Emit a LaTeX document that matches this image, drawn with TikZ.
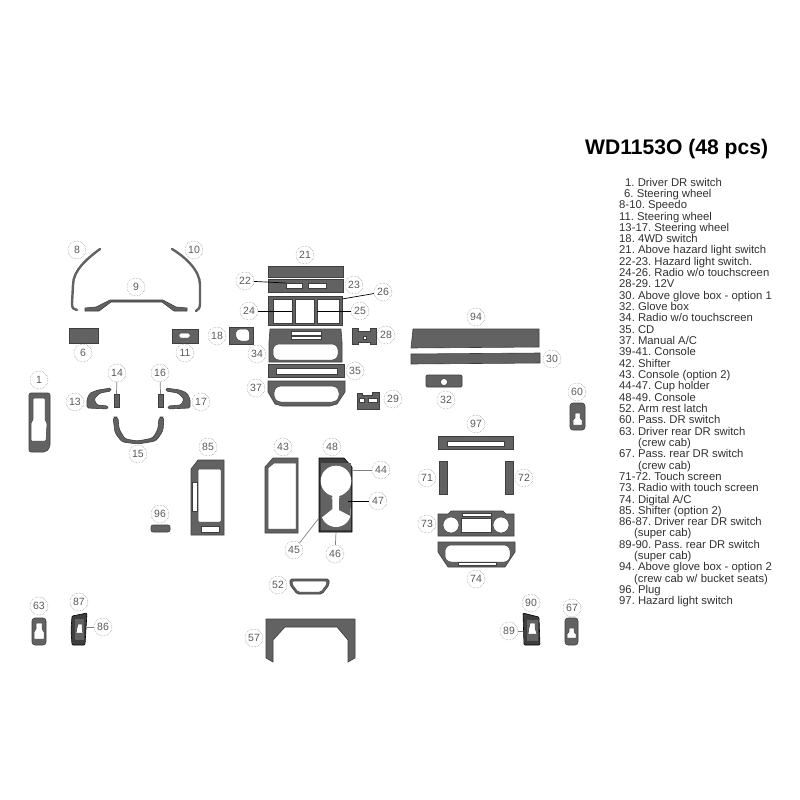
\documentclass[tikz,border=0pt]{standalone}
\usepackage{fontspec}
\setmainfont{Liberation Sans}
\frenchspacing
\definecolor{partgray}{HTML}{626262}
\definecolor{partedge}{HTML}{3E3E3E}
\definecolor{calloutgray}{HTML}{5A5A5A}
\definecolor{listgray}{HTML}{303030}
\tikzset{
  part/.style={fill=partgray,draw=partedge,line width=0.6pt},
  hole/.style={fill=white,draw=partedge,line width=0.5pt},
  darkpart/.style={fill=partedge,draw=black,line width=0.6pt},
  strip/.style={draw=partgray,line width=2.4pt,line cap=round},
  callout/.style={circle,draw=gray!90,densely dotted,line width=0.5pt,minimum size=18pt,inner sep=0pt,text=calloutgray,font=\fontsize{10.5pt}{12pt}\selectfont},
  leader/.style={draw=gray,line width=0.7pt},
  listline/.style={anchor=base west,inner sep=0pt,text=listgray,font=\fontsize{11.3pt}{12pt}\selectfont}
}
\begin{document}
\begin{tikzpicture}[x=1pt,y=-1pt]
\useasboundingbox (0,0) rectangle (800,800);

% title and list
\node (title) at (585,154) [anchor=base west,inner sep=0pt,font=\fontsize{21.1pt}{24pt}\selectfont\bfseries] {WD1153O (48 pcs)};
\node (l1) at (625,186) [listline] {1. Driver DR switch};
\node (l2) at (624,197.3) [listline] {6. Steering wheel};
\node (l3) at (619,208.6) [listline] {8-10. Speedo};
\node (l4) at (619,220) [listline] {11. Steering wheel};
\node (l5) at (619,231.3) [listline] {13-17. Steering wheel};
\node (l6) at (619,242.6) [listline] {18. 4WD switch};
\node (l7) at (619,253.9) [listline] {21. Above hazard light switch};
\node (l8) at (619,265.2) [listline] {22-23. Hazard light switch.};
\node (l9) at (619,276.6) [listline] {24-26. Radio w/o touchscreen};
\node (l10) at (619,287.9) [listline] {28-29. 12V};
\node (l11) at (619,299.2) [listline] {30. Above glove box - option 1};
\node (l12) at (619,310.5) [listline] {32. Glove box};
\node (l13) at (619,321.8) [listline] {34. Radio w/o touchscreen};
\node (l14) at (619,333.2) [listline] {35. CD};
\node (l15) at (619,344.5) [listline] {37. Manual A/C};
\node (l16) at (619,355.8) [listline] {39-41. Console};
\node (l17) at (619,367.1) [listline] {42. Shifter};
\node (l18) at (619,378.4) [listline] {43. Console (option 2)};
\node (l19) at (619,389.8) [listline] {44-47. Cup holder};
\node (l20) at (619,401.1) [listline] {48-49. Console};
\node (l21) at (619,412.4) [listline] {52. Arm rest latch};
\node (l22) at (619,423.7) [listline] {60. Pass. DR switch};
\node (l23) at (619,435) [listline] {63. Driver rear DR switch};
\node (l24) at (638,446.4) [listline] {(crew cab)};
\node (l25) at (619,457.7) [listline] {67. Pass. rear DR switch};
\node (l26) at (638,469) [listline] {(crew cab)};
\node (l27) at (619,480.3) [listline] {71-72. Touch screen};
\node (l28) at (619,491.6) [listline] {73. Radio with touch screen};
\node (l29) at (619,503) [listline] {74. Digital A/C};
\node (l30) at (619,514.3) [listline] {85. Shifter (option 2)};
\node (l31) at (619,525.6) [listline] {86-87. Driver rear DR switch};
\node (l32) at (634,536.9) [listline] {(super cab)};
\node (l33) at (619,548.2) [listline] {89-90. Pass. rear DR switch};
\node (l34) at (634,559.6) [listline] {(super cab)};
\node (l35) at (619,570.9) [listline] {94. Above glove box - option 2};
\node (l36) at (634,582.2) [listline] {(crew cab w/ bucket seats)};
\node (l37) at (619,593.5) [listline] {96. Plug};
\node (l38) at (619,604.8) [listline] {97. Hazard light switch};

% speedo
\draw [strip] (100,249) .. controls (88,258) and (73,270) .. (73,285) -- (72,304) .. controls (72,308) and (74,310) .. (77,310);
\draw [strip] (172,249) .. controls (185,257) and (200,270) .. (200,285) -- (200,304) .. controls (200,308) and (198,310) .. (196,311);
\draw [part] (85,308) -- (96,307) -- (110,300) -- (163,300) -- (176,307) -- (187,308) -- (187,311) -- (174,311) -- (162,302) -- (111,302) -- (99,311) -- (85,311) -- cycle;

% steering wheel
\draw [part] (69,328) rectangle (98,343);
\draw [part] (172,329) rectangle (198,343);
\draw [hole,rounded corners=1.5pt] (179,333) rectangle (190,338);
\draw [part,rounded corners=1.5pt] (111,388) -- (98,390) -- (90,393) -- (87,399) -- (87,408) -- (108,409) -- (108,406) -- (97,405) -- (94,399) -- (100,393) -- (111,391) -- cycle;
\draw [part,rounded corners=1.5pt] (166,388) -- (180,390) -- (187,393) -- (190,399) -- (190,408) -- (168,409) -- (168,406) -- (181,405) -- (184,399) -- (178,393) -- (166,391) -- cycle;
\draw [part] (114,394) rectangle (119,407);
\draw [part] (158,394) rectangle (163,407);
\draw [part,rounded corners=3pt] (113,417) -- (118,417) -- (119,429) -- (125,439) -- (138,441) -- (153,438) -- (158,429) -- (159,417) -- (164,417) -- (163,431) -- (156,441) -- (138,444) -- (122,442) -- (115,433) -- cycle;

% driver door switch
\draw [part,rounded corners=2pt] (29,393) -- (50,393) -- (50,447) -- (46,452) -- (29,452) -- cycle;
\draw [hole,rounded corners=1pt] (33,398) -- (45,398) -- (45,420) -- (47,423) -- (46,441) -- (31,441) -- (31,423) -- (33,420) -- cycle;

% 4WD switch
\draw [part] (229,327) rectangle (253,344);
\draw [hole,rounded corners=3pt] (237,329) -- (249,329) -- (250,341) -- (238,341) -- (235,335) -- cycle;

% center stack
\draw [part] (268,266) rectangle (343,277);
\draw [part] (268,279) rectangle (343,292);
\draw [hole] (286,283) rectangle (302,288);
\draw [hole] (308,283) rectangle (326,288);
\draw [part] (268,296) rectangle (342,325);
\draw [hole] (273,299) rectangle (292,323);
\draw [hole] (295,299) rectangle (314,323);
\draw [hole] (317,299) rectangle (339,323);
\draw [part] (270,329) -- (341,329) -- (342,342) -- (342,362) -- (269,362) -- (269,342) -- cycle;
\draw [hole] (291,331) rectangle (321,335);
\draw [hole] (291,336) rectangle (321,339);
\draw [hole,rounded corners=6pt] (273,344) rectangle (338,360);
\draw [part] (268,364) rectangle (344,377);
\draw [hole] (276,368) rectangle (337,374);
\draw [part] (268,381) -- (345,381) -- (345,392) -- (337,404) -- (330,406) -- (282,406) -- (275,404) -- (268,392) -- cycle;
\draw [hole,rounded corners=7pt] (274,386) rectangle (339,402);

% 12V
\draw [part] (352,328) -- (358,328) -- (358,331) -- (370,331) -- (370,328) -- (376,328) -- (376,344) -- (370,344) -- (370,342) -- (358,342) -- (358,344) -- (352,344) -- cycle;
\draw [hole] (363,336) rectangle (366,339);
\draw [part] (357,393) -- (362,393) -- (362,395) -- (372,395) -- (372,392) -- (379,392) -- (379,409) -- (357,409) -- cycle;
\draw [hole] (359,398) rectangle (364,402);
\draw [hole] (368,398) rectangle (377,402);

% above glove box and glove box
\draw [part] (413,329) -- (539,329) -- (539,347) -- (411,348) -- cycle;
\draw [part] (411,354) -- (540,353) -- (540,363) -- (411,364) -- cycle;
\draw [part,rounded corners=1pt] (426,375) rectangle (462,387);
\draw [hole] (444,382) circle (3.5pt);

% pass door switch
\draw [part,rounded corners=3pt] (570,403) rectangle (585,430);
\draw [hole] (575,413) -- (580,413) -- (580,418) -- (582,420) -- (582,425) -- (573,425) -- (573,420) -- (575,418) -- cycle;

% touch screen group
\draw [part] (438,436) rectangle (513,449);
\draw [hole] (447,441) rectangle (504,446);
\draw [part] (439,461) rectangle (447,494);
\draw [part] (505,461) rectangle (513,494);
\draw [part] (438,514) -- (448,514) -- (451,511) -- (503,511) -- (506,514) -- (514,514) -- (514,536) -- (438,536) -- cycle;
\draw [hole] (451,525) circle (8pt);
\draw [hole] (501,525) circle (8pt);
\draw [hole] (461,518) rectangle (491,532);
\draw [hole] (462,513) rectangle (491,516.5);
\draw [part] (438,542) -- (515,542) -- (515,552) -- (505,567) -- (448,567) -- (438,552) -- cycle;
\draw [hole,rounded corners=6pt] (445,545) rectangle (510,562);
\draw [hole] (458,562) rectangle (496,565);

% shifter option 2
\draw [part] (198,460) -- (224,460) -- (224,535) -- (191,535) -- (191,469) -- cycle;
\draw [hole,rounded corners=1pt] (198,469) rectangle (221,522);
\draw [hole] (192,482) rectangle (197,511);
\draw [hole] (201,526) rectangle (219,532);

% plug
\draw [part,rounded corners=2pt] (151,525) rectangle (170,532);

% console option 2
\draw [part] (273,458) -- (298,458) -- (298,533) -- (265,533) -- (265,467) -- cycle;
\draw [hole] (274,463) -- (296,463) -- (296,529) -- (268,529) -- (268,468) -- cycle;

% cup holder
\draw [darkpart] (319,458) -- (344,458) -- (352,467) -- (352,532) -- (319,532) -- cycle;
\fill [partgray] (321,463) rectangle (351,530);
\fill [white] (336,481) circle (15.3pt) (336,512) circle (15pt) (332.3,490) rectangle (339,506);
\fill [partgray] (320.5,489) -- (332.3,499) -- (332.3,509) -- (320.5,518.5) -- cycle;
\fill [partgray] (350.5,488.5) -- (339,498.5) -- (339,510) -- (350.5,516) -- cycle;

% arm rest latch
\draw [part,rounded corners=1.5pt] (290,579) -- (329,579) -- (329,585) -- (322,594) -- (297,594) -- (290,585) -- cycle;
\draw [hole,rounded corners=1.5pt] (292,581) -- (327,581) -- (327,584) -- (321,592) -- (298,592) -- (292,584) -- cycle;

% rear console
\draw [part] (266,619) -- (355,619) -- (355,658) -- (348,662) -- (348,640) -- (337,627) -- (285,627) -- (273,640) -- (273,662) -- (266,658) -- cycle;

% rear door switches
\draw [part,rounded corners=3pt] (32,618) rectangle (46,645);
\draw [hole] (36,623) -- (42,623) -- (42,629) -- (44,632) -- (44,639) -- (34,639) -- (34,632) -- (36,629) -- cycle;
\draw [darkpart,rounded corners=1pt] (72,616) -- (87,613) -- (85,645) -- (72,645) -- (71,630) -- cycle;
\draw [part] (74,618) rectangle (84,640);
\draw [hole] (78,624) -- (82,624) -- (82,628) -- (83,633) -- (76,633) -- (77,628) -- cycle;
\draw [darkpart,rounded corners=1pt] (523,613) -- (539,617) -- (540,645) -- (524,645) -- cycle;
\draw [part] (526,619) rectangle (538,641);
\draw [hole] (530,623) -- (535,623) -- (535,628) -- (537,634) -- (528,634) -- (529,628) -- cycle;
\draw [part,rounded corners=3pt] (565,618) rectangle (578,645);
\draw [hole] (569,628) -- (574,628) -- (574,632) -- (576,634) -- (576,638) -- (567,638) -- (567,634) -- (569,632) -- cycle;

% callouts
\node (c1) at (39,380) [callout] {1};
\node (c6) at (83,353) [callout] {6};
\node (c8) at (77,250) [callout] {8};
\node (c9) at (136,287) [callout] {9};
\node (c10) at (194,250) [callout] {10};
\node (c11) at (185,353) [callout] {11};
\node (c13) at (75,402) [callout] {13};
\node (c14) at (117,373) [callout] {14};
\node (c15) at (138,454) [callout] {15};
\node (c16) at (160,373) [callout] {16};
\node (c17) at (201,402) [callout] {17};
\node (c18) at (217,336) [callout] {18};
\node (c21) at (305,255) [callout] {21};
\node (c22) at (245,281) [callout] {22};
\node (c23) at (354,285) [callout] {23};
\node (c24) at (249,311) [callout] {24};
\node (c25) at (360,311) [callout] {25};
\node (c26) at (383,292) [callout] {26};
\node (c28) at (386,335) [callout] {28};
\node (c29) at (393,399) [callout] {29};
\node (c30) at (552,359) [callout] {30};
\node (c32) at (446,400) [callout] {32};
\node (c34) at (257,354) [callout] {34};
\node (c35) at (355,371) [callout] {35};
\node (c37) at (256,388) [callout] {37};
\node (c43) at (283,447) [callout] {43};
\node (c44) at (381,470) [callout] {44};
\node (c45) at (294,550) [callout] {45};
\node (c46) at (335,554) [callout] {46};
\node (c47) at (378,501) [callout] {47};
\node (c48) at (332,447) [callout] {48};
\node (c52) at (278,585) [callout] {52};
\node (c57) at (254,638) [callout] {57};
\node (c60) at (577,392) [callout] {60};
\node (c63) at (39,606) [callout] {63};
\node (c67) at (572,608) [callout] {67};
\node (c71) at (427,478) [callout] {71};
\node (c72) at (524,478) [callout] {72};
\node (c73) at (427,524) [callout] {73};
\node (c74) at (476,579) [callout] {74};
\node (c85) at (208,447) [callout] {85};
\node (c86) at (103,627) [callout] {86};
\node (c87) at (79,602) [callout] {87};
\node (c89) at (509,631) [callout] {89};
\node (c90) at (531,603) [callout] {90};
\node (c94) at (476,317) [callout] {94};
\node (c96) at (160,514) [callout] {96};
\node (c97) at (476,424) [callout] {97};

% leader ends
\coordinate (p14) at (116.5,394);
\coordinate (p16) at (160.5,394);
\coordinate (p22) at (286,283);
\coordinate (p24) at (292,311);
\coordinate (p25) at (317,311);
\coordinate (p26) at (342,299);
\coordinate (p44) at (352,470);
\coordinate (p45) at (319,518);
\coordinate (p46) at (336,532);
\coordinate (p47) at (348,501);
\coordinate (p86) at (87,627);
\coordinate (p89) at (523,631);

\draw [leader] (c14) -- (p14);
\draw [leader] (c16) -- (p16);
\draw [leader,draw=black] (c22) -- (p22);
\draw [leader,draw=black] (c24) -- (p24);
\draw [leader,draw=black] (c25) -- (p25);
\draw [leader,draw=black] (c26) -- (p26);
\draw [leader] (c44) -- (p44);
\draw [leader] (c45) -- (p45);
\draw [leader] (c46) -- (p46);
\draw [leader,draw=black] (c47) -- (p47);
\draw [leader] (c86) -- (p86);
\draw [leader] (c89) -- (p89);
\end{tikzpicture}
\end{document}
